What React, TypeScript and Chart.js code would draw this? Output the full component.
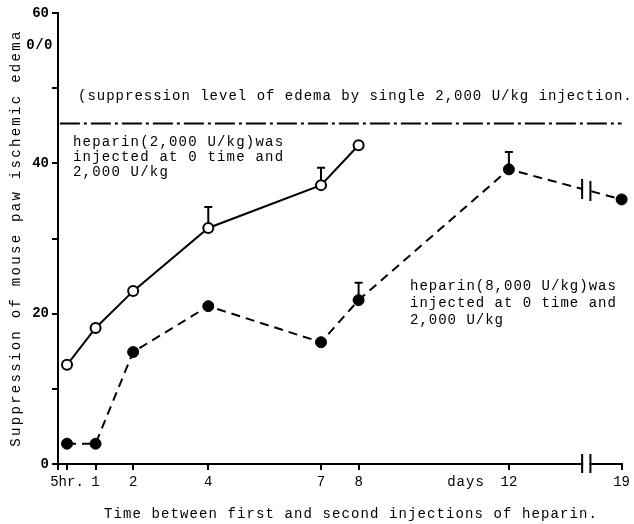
import React, { useEffect, useRef } from "react";
import { Chart, registerables } from "chart.js";

Chart.register(...registerables);

// x positions in days (19 days is drawn after an axis break at position 15)
const tickValues = [0, 0.24, 1, 2, 4, 7, 8, 12, 15];
const tickLabels = ["", "5hr.", "1", "2", "4", "7", "8", "12", "19"];

const openX = [0.24, 1, 2, 4, 7, 8];
const openY = [13.2, 18.1, 23.0, 31.4, 37.1, 42.4];
const openErrTop = [null, null, null, 34.2, 39.4, null];

const filledX = [0.24, 1, 2, 4, 7, 8, 12, 15];
const filledY = [2.7, 2.7, 14.9, 21.0, 16.2, 21.8, 39.2, 35.2];
const filledErrTop = [null, null, null, null, null, 24.1, 41.5, null];

const refLevel = 45.3;
const refX = [0.05, 15];

const breakPos = [13.95, 14.17];

const MONO = "'Liberation Mono', 'DejaVu Sans Mono', monospace";

function drawText(ctx: CanvasRenderingContext2D, text: string, x: number, y: number, size: number, spacing: number, align: CanvasTextAlign = "left", weight = "normal") {
  ctx.save();
  ctx.font = `${weight} ${size}px ${MONO}`;
  (ctx as any).letterSpacing = `${spacing}px`;
  ctx.textAlign = align;
  ctx.textBaseline = "middle";
  ctx.fillStyle = "#000";
  ctx.fillText(text, x, y);
  ctx.restore();
}

const annotPlugin = {
  id: "annot",
  afterDatasetsDraw(chart: any) {
    const { ctx, scales } = chart;
    const xs = scales.x;
    const ys = scales.y;
    ctx.save();
    ctx.strokeStyle = "#000";
    ctx.lineWidth = 2;
    // error bars
    const errs = [
      [openX, openY, openErrTop],
      [filledX, filledY, filledErrTop],
    ] as any[];
    errs.forEach(([xa, ya, ea]) => {
      xa.forEach((xv: number, i: number) => {
        if (ea[i] == null) return;
        const px = xs.getPixelForValue(xv);
        const py0 = ys.getPixelForValue(ya[i]) - 5;
        const py1 = ys.getPixelForValue(ea[i]);
        ctx.beginPath();
        ctx.moveTo(px, py0);
        ctx.lineTo(px, py1);
        ctx.moveTo(px - 4, py1);
        ctx.lineTo(px + 4, py1);
        ctx.stroke();
      });
    });
    // break on dashed line
    const x12 = xs.getPixelForValue(filledX[6]);
    const y12 = ys.getPixelForValue(filledY[6]);
    const x19 = xs.getPixelForValue(filledX[7]);
    const y19 = ys.getPixelForValue(filledY[7]);
    const bx0 = xs.getPixelForValue(breakPos[0]);
    const bx1 = xs.getPixelForValue(breakPos[1]);
    const yAt = (x: number) => y12 + ((x - x12) / (x19 - x12)) * (y19 - y12);
    ctx.fillStyle = "#fff";
    ctx.fillRect(bx0, yAt(bx0) - 5, bx1 - bx0, 10);
    ctx.beginPath();
    ctx.moveTo(bx0, yAt(bx0) - 10);
    ctx.lineTo(bx0, yAt(bx0) + 10);
    ctx.moveTo(bx1, yAt(bx1) - 10);
    ctx.lineTo(bx1, yAt(bx1) + 10);
    ctx.stroke();
    // break on x axis
    const ay = ys.getPixelForValue(0);
    ctx.fillStyle = "#fff";
    ctx.fillRect(bx0 + 1, ay - 3, bx1 - bx0 - 2, 6);
    ctx.beginPath();
    ctx.moveTo(bx0, ay - 10);
    ctx.lineTo(bx0, ay + 9);
    ctx.moveTo(bx1, ay - 10);
    ctx.lineTo(bx1, ay + 9);
    ctx.stroke();
    ctx.restore();

    // texts
    drawText(ctx, "(suppression level of edema by single 2,000 U/kg injection.", 78, 96, 14, 1.0);
    drawText(ctx, "heparin(2,000 U/kg)was", 73, 142, 14, 1.2);
    drawText(ctx, "injected at 0 time and", 73, 157, 14, 1.2);
    drawText(ctx, "2,000 U/kg", 73, 172, 14, 1.2);
    drawText(ctx, "heparin(8,000 U/kg)was", 410, 286, 14, 1.0);
    drawText(ctx, "injected at 0 time and", 410, 303, 14, 1.0);
    drawText(ctx, "2,000 U/kg", 410, 320, 14, 1.0);
    drawText(ctx, "0/0", 53, 45, 14, 0.5, "right", "bold");
    drawText(ctx, "days", 466, 482, 14, 1.0, "center");
    drawText(ctx, "Time between first and second injections of heparin.", 351, 514, 14, 1.1, "center");
    ctx.save();
    ctx.translate(16, 238);
    ctx.rotate(-Math.PI / 2);
    drawText(ctx, "Suppression of mouse paw ischemic edema", 0, 0, 14, 2.3, "center");
    ctx.restore();
  },
};

export default function App() {
  const ref = useRef<HTMLCanvasElement>(null);
  useEffect(() => {
    if (!ref.current) return;
    const chart = new Chart(ref.current, {
      type: "line",
      data: {
        datasets: [
          {
            data: openX.map((x, i) => ({ x, y: openY[i] })),
            borderColor: "#000",
            borderWidth: 2,
            pointRadius: 5,
            pointBackgroundColor: "#fff",
            pointBorderColor: "#000",
            pointBorderWidth: 2,
            clip: false,
          },
          {
            data: filledX.map((x, i) => ({ x, y: filledY[i] })),
            borderColor: "#000",
            borderWidth: 2,
            borderDash: [9, 6],
            pointRadius: 5.5,
            pointBackgroundColor: "#000",
            pointBorderColor: "#000",
            pointBorderWidth: 1,
            clip: false,
          },
          {
            data: refX.map((x) => ({ x, y: refLevel })),
            borderColor: "#000",
            borderWidth: 2,
            borderDash: [20, 4, 3, 4],
            pointRadius: 0,
            clip: false,
          },
        ],
      },
      options: {
        responsive: false,
        animation: false,
        layout: { padding: { top: 13, right: 12, left: 0, bottom: 0 } },
        plugins: { legend: { display: false }, tooltip: { enabled: false }, title: { display: false } },
        scales: {
          x: {
            type: "linear",
            min: 0,
            max: 15,
            afterBuildTicks: (scale: any) => {
              scale.ticks = tickValues.map((v) => ({ value: v }));
            },
            afterFit: (scale: any) => {
              scale.height = 60;
            },
            ticks: {
              autoSkip: false,
              maxRotation: 0,
              padding: 4,
              color: "#000",
              font: { family: MONO, size: 14 },
              callback: (v: any) => {
                const i = tickValues.indexOf(Number(v));
                return i >= 0 ? tickLabels[i] : "";
              },
            },
            grid: { drawOnChartArea: false, drawTicks: true, tickLength: 6, color: "#000", lineWidth: 2 },
            border: { display: true, color: "#000", width: 2 },
          },
          y: {
            min: 0,
            max: 60,
            afterFit: (scale: any) => {
              scale.width = 58;
            },
            ticks: {
              stepSize: 10,
              padding: 3,
              color: "#000",
              font: { family: MONO, size: 14, weight: "bold" },
              callback: (v: any) => (Number(v) % 20 === 0 ? String(v) : ""),
            },
            grid: { drawOnChartArea: false, drawTicks: true, tickLength: 6, color: "#000", lineWidth: 2 },
            border: { display: true, color: "#000", width: 2 },
          },
        },
      } as any,
      plugins: [annotPlugin],
    });
    return () => chart.destroy();
  }, []);
  return (
    <div style={{ position: "fixed", left: 0, top: 0, width: 634, height: 524, background: "#fff" }}>
      <canvas ref={ref} width={634} height={524} style={{ display: "block" }} />
    </div>
  );
}
